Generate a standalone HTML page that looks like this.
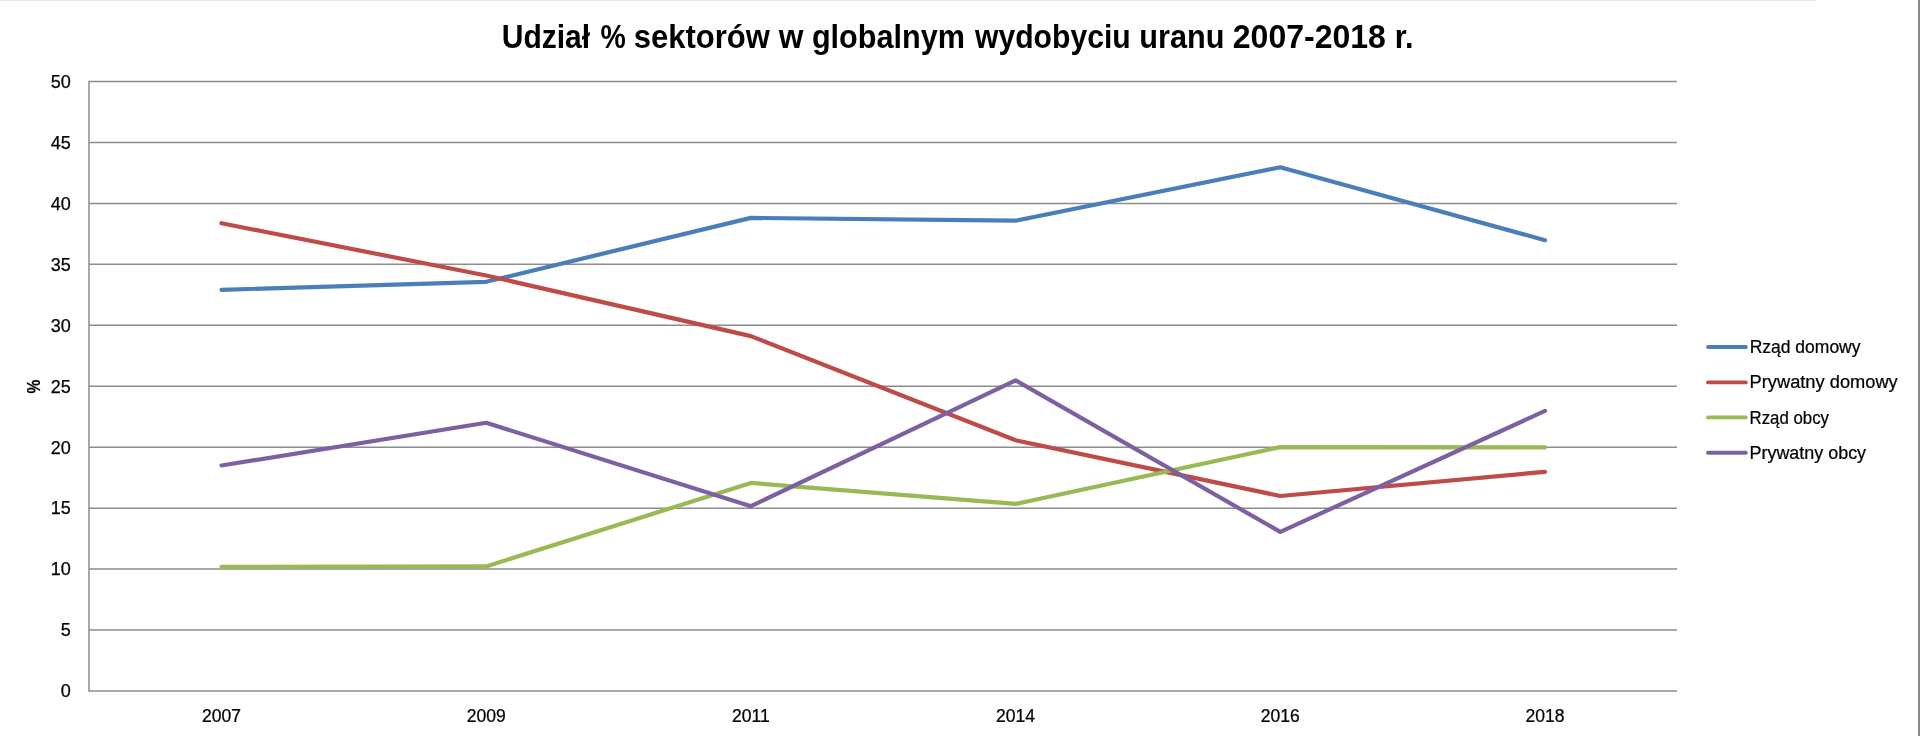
<!DOCTYPE html>
<html><head><meta charset="utf-8"><style>
html,body{margin:0;padding:0;background:#fff;width:1920px;height:736px;overflow:hidden}
svg{display:block;will-change:transform}
.t{font-family:"Liberation Sans",sans-serif;font-size:18px;fill:#000;stroke:#000;stroke-width:0.25px}
.b{font-weight:bold}
.title{font-family:"Liberation Sans",sans-serif;font-size:32px;font-weight:bold;fill:#000}
</style></head><body>
<svg width="1920" height="736" viewBox="0 0 1920 736">
<rect x="0" y="0" width="1816" height="1" fill="#e6e6e6"/>
<rect x="0" y="5" width="1816" height="1" fill="#fafafa"/>
<rect x="1918" y="0" width="2" height="736" fill="#8a8a8a"/>
<line x1="89" y1="81.50" x2="1677" y2="81.50" stroke="#8c8c8c" stroke-width="1.5"/>
<line x1="89" y1="142.45" x2="1677" y2="142.45" stroke="#8c8c8c" stroke-width="1.5"/>
<line x1="89" y1="203.40" x2="1677" y2="203.40" stroke="#8c8c8c" stroke-width="1.5"/>
<line x1="89" y1="264.35" x2="1677" y2="264.35" stroke="#8c8c8c" stroke-width="1.5"/>
<line x1="89" y1="325.30" x2="1677" y2="325.30" stroke="#8c8c8c" stroke-width="1.5"/>
<line x1="89" y1="386.25" x2="1677" y2="386.25" stroke="#8c8c8c" stroke-width="1.5"/>
<line x1="89" y1="447.20" x2="1677" y2="447.20" stroke="#8c8c8c" stroke-width="1.5"/>
<line x1="89" y1="508.15" x2="1677" y2="508.15" stroke="#8c8c8c" stroke-width="1.5"/>
<line x1="89" y1="569.10" x2="1677" y2="569.10" stroke="#8c8c8c" stroke-width="1.5"/>
<line x1="89" y1="630.05" x2="1677" y2="630.05" stroke="#8c8c8c" stroke-width="1.5"/>
<line x1="89" y1="691.00" x2="1677" y2="691.00" stroke="#8c8c8c" stroke-width="1.5"/>
<line x1="89" y1="80.75" x2="89" y2="691.75" stroke="#8c8c8c" stroke-width="1.5"/>
<text x="70.8" y="87.80" text-anchor="end" class="t">50</text>
<text x="70.8" y="148.75" text-anchor="end" class="t">45</text>
<text x="70.8" y="209.70" text-anchor="end" class="t">40</text>
<text x="70.8" y="270.65" text-anchor="end" class="t">35</text>
<text x="70.8" y="331.60" text-anchor="end" class="t">30</text>
<text x="70.8" y="392.55" text-anchor="end" class="t">25</text>
<text x="70.8" y="453.50" text-anchor="end" class="t">20</text>
<text x="70.8" y="514.45" text-anchor="end" class="t">15</text>
<text x="70.8" y="575.40" text-anchor="end" class="t">10</text>
<text x="70.8" y="636.35" text-anchor="end" class="t">5</text>
<text x="70.8" y="697.30" text-anchor="end" class="t">0</text>
<text x="0" y="0" transform="translate(221.50,722.4) scale(0.975,0.98)" text-anchor="middle" class="t">2007</text>
<text x="0" y="0" transform="translate(486.20,722.4) scale(0.975,0.98)" text-anchor="middle" class="t">2009</text>
<text x="0" y="0" transform="translate(750.90,722.4) scale(0.975,0.98)" text-anchor="middle" class="t">2011</text>
<text x="0" y="0" transform="translate(1015.60,722.4) scale(0.975,0.98)" text-anchor="middle" class="t">2014</text>
<text x="0" y="0" transform="translate(1280.30,722.4) scale(0.975,0.98)" text-anchor="middle" class="t">2016</text>
<text x="0" y="0" transform="translate(1545.00,722.4) scale(0.975,0.98)" text-anchor="middle" class="t">2018</text>
<polyline points="221.50,289.80 486.20,281.80 750.90,217.90 1015.60,220.70 1280.30,167.30 1545.00,240.20" fill="none" stroke="#4A7EBB" stroke-width="4.2" stroke-linejoin="round" stroke-linecap="round"/>
<polyline points="221.50,223.20 486.20,275.50 750.90,336.10 1015.60,440.20 1280.30,496.00 1545.00,471.80" fill="none" stroke="#BE4B48" stroke-width="4.2" stroke-linejoin="round" stroke-linecap="round"/>
<polyline points="221.50,566.80 486.20,566.40 750.90,482.90 1015.60,503.90 1280.30,447.10 1545.00,447.30" fill="none" stroke="#98B954" stroke-width="4.2" stroke-linejoin="round" stroke-linecap="round"/>
<polyline points="221.50,465.50 486.20,422.80 750.90,506.20 1015.60,380.40 1280.30,531.90 1545.00,410.90" fill="none" stroke="#7D60A0" stroke-width="4.2" stroke-linejoin="round" stroke-linecap="round"/>
<line x1="1708" y1="347" x2="1745.8" y2="347" stroke="#4A7EBB" stroke-width="3.9000000000000004" stroke-linecap="round"/>
<line x1="1708" y1="382.4" x2="1745.8" y2="382.4" stroke="#BE4B48" stroke-width="3.9000000000000004" stroke-linecap="round"/>
<line x1="1708" y1="417.4" x2="1745.8" y2="417.4" stroke="#98B954" stroke-width="3.9000000000000004" stroke-linecap="round"/>
<line x1="1708" y1="452.8" x2="1745.8" y2="452.8" stroke="#7D60A0" stroke-width="3.9000000000000004" stroke-linecap="round"/>
<text class="t" transform="translate(1749.64,352.5) scale(0.9733,0.97)">Rząd domowy</text>
<text class="t" transform="translate(1749.58,388.3) scale(1.0145,0.97)">Prywatny domowy</text>
<text class="t" transform="translate(1749.50,423.59999999999997) scale(0.9353,0.97)">Rząd obcy</text>
<text class="t" transform="translate(1749.51,458.8) scale(0.9965,0.97)">Prywatny obcy</text>
<text class="title" transform="translate(501.72,47.6) scale(0.9391,1.025)">Udział</text>
<text class="title" transform="translate(600.58,47.6) scale(0.8879,1.025)">%</text>
<text class="title" transform="translate(633.79,47.6) scale(0.9695,1.025)">sektorów</text>
<text class="title" transform="translate(778.75,47.6) scale(0.9900,1.025)">w</text>
<text class="title" transform="translate(811.90,47.6) scale(0.9569,1.025)">globalnym</text>
<text class="title" transform="translate(975.00,47.6) scale(0.9418,1.025)">wydobyciu</text>
<text class="title" transform="translate(1139.33,47.6) scale(0.9587,1.025)">uranu</text>
<text class="title" transform="translate(1232.75,47.6) scale(1.0017,1.025)">2007-2018</text>
<text class="title" transform="translate(1394.75,47.6) scale(0.9567,1.025)">r.</text>
<text x="0" y="0" class="t b" transform="translate(39.6,386.5) rotate(-90) scale(0.87,0.97)" text-anchor="middle">%</text>
</svg>
</body></html>
